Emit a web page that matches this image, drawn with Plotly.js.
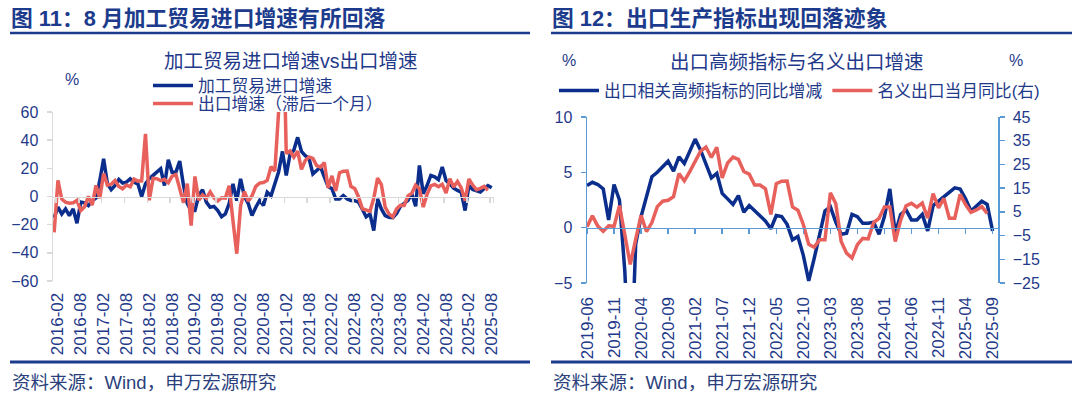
<!DOCTYPE html>
<html>
<head>
<meta charset="utf-8">
<script src="https://cdn.plot.ly/plotly-3.0.1.min.js"></script>
<style>
html,body{margin:0;padding:0;background:#fff;}
#chart{width:1080px;height:397px;}
</style>
</head>
<body>
<div id="chart"></div>
<script>
// ---------- helpers for category labels ----------
function monthRange(y0, m0, y1, m1) {
  const out = [];
  let y = y0, m = m0;
  while (y < y1 || (y === y1 && m <= m1)) {
    out.push(y + '-' + (m < 10 ? '0' + m : '' + m));
    m++; if (m > 12) { m = 1; y++; }
  }
  return out;
}

// ---------- Figure 11 data ----------
const leftCategories = monthRange(2016, 1, 2025, 8); // 116 months
// 加工贸易进口增速 (%)
const processingImportsYoY = [
  -15, -7.6, -12.4, -8.8, -13.5, -8.8, -19, -4, -4.5, -6.4, -3, -1,
  11.4, 26.8, 9, 4.8, 7.8, 12.1, 9.5, 10.2, 12.6, 10.2, 9, 0,
  9, 12.6, 15, 17, 19.7, 7.8, 26, 17.3, 17.3, 25.2, 7.8, -5,
  -10, -10, 0.7, 4.8, -4, -7.6, -7, -10, -14.3, -12.4, -5, 9,
  -3, 12.6, 0, -5, -13.5, -7.6, -2.8, -6.4, 3, 0.5, 10, 17.5,
  32, 15, 30, 33, 42, 32, 29, 27, 16, 18.5, 21, 14,
  7, 5.5, -1.7, -1.7, 0.7, -1.7, -2.8, -3, -4, -9, -14.5, -12.4,
  -24.2, -1.7, -8.8, -13.5, -14.7, -15, -12, -7, -5, -2.8, 1.9, -7,
  22, 2, 7.8, 15, 14, 12, 20.9, 11.4, 9, 6, 4.3, 3,
  -10, 7.8, 5, 4.3, 3.1, 5.5, 7.8, 6.2
];
// 出口增速（滞后一个月）(%)
const exportsLaggedYoY = [
  -25.4, 11.5, -1.8, -4.1, -4.8, -4.4, -2.8, -10.0, -7.3, 0.1, -6.1, 7.9,
  -1.3, 16.4, 8.0, 8.7, 11.3, 7.2, 5.5, 8.1, 6.9, 12.3, 10.9, 11.1,
  44.5, -2.7, 12.9, 12.6, 11.3, 12.2, 9.8, 14.5, 15.6, 5.4, -4.4, 9.1,
  -20.7, 14.2, -2.7, 1.1, -1.3, 3.3, -1.0, -3.2, -0.9, -1.1, 7.6, -17.2,
  -40.6, -6.6, 3.5, -3.3, 0.5, 7.2, 9.5, 9.9, 11.4, 21.1, 18.1, 60.6,
  154.9, 30.6, 32.3, 27.9, 32.2, 19.3, 25.6, 28.1, 27.1, 22.0, 20.9, 24.1,
  6.2, 14.7, 3.9, 16.9, 17.9, 18.0, 7.1, 5.7, -0.3, -8.7, -9.9, -10.5,
  -1.3, 13, 8.5, -7.5, -12.4, -14.5, -8.8, -6.2, -6.4, 0.5, 2.3, 8.0,
  5.6, -7.5, 1.5, 7.6, 8.6, 7.0, 8.7, 2.4, 12.7, 6.7, 10.7, 6.1,
  -3.0, 12.4, 8.1, 4.8, 5.8, 7.2, 4.4
];
const leftTickLabels = ['2016-02','2016-08','2017-02','2017-08','2018-02','2018-08','2019-02','2019-08',
  '2020-02','2020-08','2021-02','2021-08','2022-02','2022-08','2023-02','2023-08','2024-02','2024-08',
  '2025-02','2025-08'];
const leftYRange = [-60, 60];

// ---------- Figure 12 data ----------
const rightCategories = monthRange(2019, 6, 2025, 9); // 76 months
// 出口相关高频指标的同比增减 (%, left axis)
const highFreqIndicatorYoY = [
  3.8, 4.1, 3.9, 3.5, 0.7, 3.9, 2.5, -4, -15, -1.5, 1.0, 2.8,
  4.6, 5.0, 5.5, 6.0, 5.1, 6.4, 5.8, 6.9, 8.0, 7.0, 5.7, 4.5,
  4.9, 3.1, 2.6, 2.1, 2.9, 1.4, 2.0, 1.5, 1.0, 0.6, -0.1, 1.1,
  1.0, 0.3, -1.1, -0.8, -2.5, -4.8, -2.8, -0.8, 1.5, 1.9, 0.5, -0.6,
  -0.5, 1.2, 1.0, 0.4, 0.4, 0.5, -0.6, 1.0, 3.5, -0.5, 1.2, 1.6,
  0.7, 0.7, 1.2, -0.3, 2.0, 2.4, 2.8, 3.3, 3.6, 3.5, 2.6, 1.5,
  1.9, 2.4, 2.1, -0.3
];
// 名义出口当月同比 (%, right axis)
const nominalExportsYoY = [
  -1.3, 3.3, -1.0, -3.2, -0.9, -1.1, 7.6,
  -5.0, -17.2, -6.6, 3.5, -3.3, 0.5, 7.2, 9.5, 9.9, 11.4, 21.1, 18.1,
  22, 26, 30.6, 32.3, 27.9, 32.2, 19.3, 25.6, 28.1, 27.1, 22.0, 20.9,
  16.3, 16.3, 14.7, 3.9, 16.9, 17.9, 18.0, 7.1, 5.7, -0.3, -8.7, -9.9,
  -6.8, -6.8, 13, 8.5, -7.5, -12.4, -14.5, -8.8, -6.2, -6.4, 0.5, 2.3,
  7.1, 7.1, -7.5, 1.5, 7.6, 8.6, 7.0, 8.7, 2.4, 12.7, 6.7, 10.7,
  2.3, 2.3, 12.4, 8.1, 4.8, 5.8, 7.2, 4.4
];
const rightTickLabels = ['2019-06','2019-11','2020-04','2020-09','2021-02','2021-07','2021-12','2022-05',
  '2022-10','2023-03','2023-08','2024-01','2024-06','2024-11','2025-04','2025-09'];
const rightY1Range = [-5, 10];
const rightY2Range = [-25, 45];

// ---------- styling ----------
const W = 1080, H = 397;
const fx = x => x / W, fy = y => 1 - y / H;
const FONT = 'Liberation Sans, Arial, "Noto Sans CJK SC", sans-serif';
const TXT = '#1f3a8a';
const NAVY = '#0b2d8c';
const RED = '#e8605c';
const GRAY = '#d9d9d9';
const LBLUE = '#5b9bd5';
const TITLE = '#1c3b8c';

const leftDom = [fy(281), fy(112)];
const rightDom = [fy(283), fy(117)];
function zeroPos(dom, r) { return dom[0] + (0 - r[0]) / (r[1] - r[0]) * (dom[1] - dom[0]); }

const traces = [
  { type: 'scatter', mode: 'lines', name: '加工贸易进口增速',
    x: leftCategories, y: processingImportsYoY, xaxis: 'x', yaxis: 'y',
    line: { color: NAVY, width: 3.5 }, legend: 'legend' },
  { type: 'scatter', mode: 'lines', name: '出口增速（滞后一个月）',
    x: leftCategories.slice(0, exportsLaggedYoY.length), y: exportsLaggedYoY, xaxis: 'x', yaxis: 'y',
    line: { color: RED, width: 3.5 }, legend: 'legend3' },
  { type: 'scatter', mode: 'lines', name: '出口相关高频指标的同比增减',
    x: rightCategories, y: highFreqIndicatorYoY, xaxis: 'x2', yaxis: 'y2',
    line: { color: NAVY, width: 3.5 }, legend: 'legend2' },
  { type: 'scatter', mode: 'lines', name: '名义出口当月同比(右)',
    x: rightCategories.slice(0, nominalExportsYoY.length), y: nominalExportsYoY, xaxis: 'x2', yaxis: 'y3',
    line: { color: RED, width: 3.5 }, legend: 'legend2' }
];

const xTickFont = { family: FONT, size: 17, color: TXT };
const yTickFont = { family: FONT, size: 16, color: TXT };
const legFont = { family: FONT, size: 16.8, color: TXT };

const layout = {
  width: W, height: H,
  margin: { l: 0, r: 0, t: 0, b: 0 },
  paper_bgcolor: '#fff', plot_bgcolor: '#fff',
  font: { family: FONT, color: TXT },
  showlegend: true,
  hovermode: false,
  xaxis: {
    type: 'category', domain: [fx(53), fx(494)], range: [-0.3, 115.6],
    anchor: 'free', position: zeroPos(leftDom, leftYRange),
    showline: true, linecolor: GRAY, linewidth: 1.5,
    ticks: 'outside', ticklen: 5, tickcolor: GRAY, tickwidth: 1.5, tickson: 'boundaries',
    tickmode: 'array', tickvals: leftTickLabels, ticktext: leftTickLabels,
    tickangle: -90, ticklabelstandoff: 88, tickfont: xTickFont,
    showgrid: false, zeroline: false, fixedrange: true
  },
  yaxis: {
    domain: leftDom, range: leftYRange, anchor: 'x', side: 'left',
    tickmode: 'linear', tick0: -60, dtick: 20,
    showline: true, linecolor: GRAY, linewidth: 1.5,
    ticks: 'outside', ticklen: 5, tickcolor: GRAY, tickwidth: 1.5,
    ticklabelstandoff: 5, tickfont: yTickFont,
    showgrid: false, zeroline: false, fixedrange: true
  },
  xaxis2: {
    type: 'category', domain: [fx(587), fx(998)], range: [0, 76],
    anchor: 'free', position: zeroPos(rightDom, rightY1Range),
    showline: true, linecolor: LBLUE, linewidth: 1.5,
    ticks: 'outside', ticklen: 5, tickcolor: LBLUE, tickwidth: 1.5,
    tickmode: 'array', tickvals: rightTickLabels, ticktext: rightTickLabels,
    tickangle: -90, ticklabelstandoff: 56, tickfont: xTickFont,
    showgrid: false, zeroline: false, fixedrange: true
  },
  yaxis2: {
    domain: rightDom, range: rightY1Range, anchor: 'x2', side: 'left',
    tickmode: 'linear', tick0: -5, dtick: 5,
    showline: true, linecolor: LBLUE, linewidth: 1.5,
    ticks: 'outside', ticklen: 5, tickcolor: LBLUE, tickwidth: 1.5,
    ticklabelstandoff: 5, tickfont: yTickFont,
    showgrid: false, zeroline: false, fixedrange: true
  },
  yaxis3: {
    overlaying: 'y2', range: rightY2Range, anchor: 'x2', side: 'right',
    tickmode: 'linear', tick0: -25, dtick: 10,
    showline: true, linecolor: LBLUE, linewidth: 1.5,
    ticks: 'outside', ticklen: 5, tickcolor: LBLUE, tickwidth: 1.5,
    ticklabelstandoff: 5, tickfont: yTickFont,
    showgrid: false, zeroline: false, fixedrange: true
  },
  legend: {
    x: fx(148), y: fy(68), xanchor: 'left', yanchor: 'top', orientation: 'v',
    bgcolor: 'rgba(0,0,0,0)', borderwidth: 0, tracegroupgap: 0,
    font: legFont, itemwidth: 40
  },
  legend3: {
    x: fx(148), y: fy(86), xanchor: 'left', yanchor: 'top', orientation: 'v',
    bgcolor: 'rgba(0,0,0,0)', borderwidth: 0, tracegroupgap: 0,
    font: legFont, itemwidth: 40
  },
  legend2: {
    x: fx(554), y: fy(73), xanchor: 'left', yanchor: 'top', orientation: 'h',
    bgcolor: 'rgba(0,0,0,0)', borderwidth: 0,
    font: legFont, itemwidth: 40
  },
  annotations: [
    { text: '图 11：8 月加工贸易进口增速有所回落', xref: 'paper', yref: 'paper', x: fx(9), y: fy(19),
      xanchor: 'left', yanchor: 'middle', showarrow: false,
      font: { family: FONT, size: 21.8, color: TITLE, weight: 'bold' } },
    { text: '图 12：出口生产指标出现回落迹象', xref: 'paper', yref: 'paper', x: fx(550), y: fy(19),
      xanchor: 'left', yanchor: 'middle', showarrow: false,
      font: { family: FONT, size: 21.8, color: TITLE, weight: 'bold' } },
    { text: '加工贸易进口增速vs出口增速', xref: 'paper', yref: 'paper', x: fx(291), y: fy(61.5),
      xanchor: 'center', yanchor: 'middle', showarrow: false,
      font: { family: FONT, size: 19.5, color: TXT } },
    { text: '出口高频指标与名义出口增速', xref: 'paper', yref: 'paper', x: fx(797), y: fy(62),
      xanchor: 'center', yanchor: 'middle', showarrow: false,
      font: { family: FONT, size: 19.5, color: TXT } },
    { text: '%', xref: 'paper', yref: 'paper', x: fx(72), y: fy(79),
      xanchor: 'center', yanchor: 'middle', showarrow: false,
      font: { family: FONT, size: 16, color: TXT } },
    { text: '%', xref: 'paper', yref: 'paper', x: fx(569), y: fy(60),
      xanchor: 'center', yanchor: 'middle', showarrow: false,
      font: { family: FONT, size: 16, color: TXT } },
    { text: '%', xref: 'paper', yref: 'paper', x: fx(1016), y: fy(60),
      xanchor: 'center', yanchor: 'middle', showarrow: false,
      font: { family: FONT, size: 16, color: TXT } },
    { text: '资料来源：Wind，申万宏源研究', xref: 'paper', yref: 'paper', x: fx(10), y: fy(382),
      xanchor: 'left', yanchor: 'middle', showarrow: false,
      font: { family: FONT, size: 18.5, color: '#2a3f7c' } },
    { text: '资料来源：Wind，申万宏源研究', xref: 'paper', yref: 'paper', x: fx(551), y: fy(382),
      xanchor: 'left', yanchor: 'middle', showarrow: false,
      font: { family: FONT, size: 18.5, color: '#2a3f7c' } }
  ],
  shapes: [
    { type: 'line', xref: 'paper', yref: 'paper', x0: fx(10), x1: fx(530), y0: fy(33), y1: fy(33),
      line: { color: TITLE, width: 2.5 } },
    { type: 'line', xref: 'paper', yref: 'paper', x0: fx(551), x1: fx(1072), y0: fy(33), y1: fy(33),
      line: { color: TITLE, width: 2.5 } },
    { type: 'line', xref: 'paper', yref: 'paper', x0: fx(10), x1: fx(530), y0: fy(362), y1: fy(362),
      line: { color: TITLE, width: 3 } },
    { type: 'line', xref: 'paper', yref: 'paper', x0: fx(551), x1: fx(1072), y0: fy(362), y1: fy(362),
      line: { color: TITLE, width: 3 } }
  ]
};

Plotly.newPlot('chart', traces, layout, { staticPlot: true, displayModeBar: false });
</script>
</body>
</html>
